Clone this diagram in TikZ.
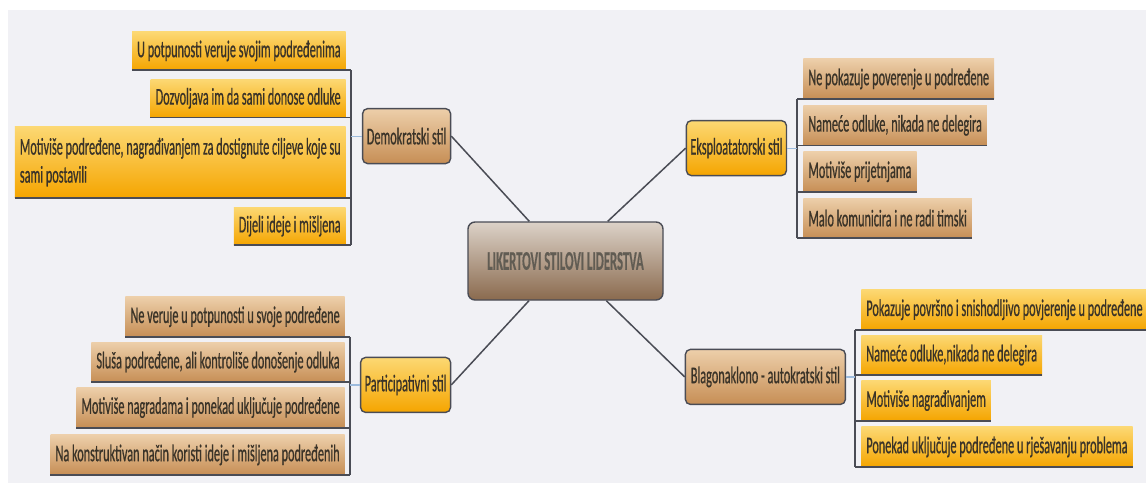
\documentclass[tikz,border=0pt]{standalone}
\usepackage{fontspec}
\setmainfont{Carlito}[FakeStretch=0.51, FakeBold=0.6]
\newfontfamily\rootfont{Carlito}[FakeStretch=0.47, FakeBold=0.4]
\usetikzlibrary{positioning}

\definecolor{PanelGray}{HTML}{F1F1F5}
\definecolor{LineGray}{HTML}{4A4C55}
\definecolor{HookBlue}{HTML}{9DBBDD}
\definecolor{TextDark}{HTML}{3A3328}
\definecolor{OrangeTop}{HTML}{FCD873}
\definecolor{OrangeBot}{HTML}{F5A500}
\definecolor{BrownTop}{HTML}{EDCFAA}
\definecolor{BrownBot}{HTML}{C68E55}
\definecolor{RootTop}{HTML}{DCD2C8}
\definecolor{RootBot}{HTML}{8A6A4E}

\begin{document}
\begin{tikzpicture}[x=1pt, y=-1pt,
	root/.style={draw=LineGray, line width=1.4pt, rounded corners=7pt, top color=RootTop, bottom color=RootBot, minimum width=195pt, minimum height=78pt, font=\rootfont\bfseries\fontsize{27}{30}\selectfont, text=TextDark!80},
	midO/.style={draw=LineGray, line width=1.4pt, rounded corners=5pt, top color=OrangeTop, bottom color=OrangeBot, minimum height=55pt, inner xsep=4pt, font=\fontsize{24}{28}\selectfont, text=TextDark},
	midB/.style={midO, top color=BrownTop, bottom color=BrownBot},
	leafO/.style={top color=OrangeTop, bottom color=OrangeBot, minimum height=40pt, inner xsep=5pt, inner ysep=3pt, font=\fontsize{24}{28}\selectfont, text=TextDark},
	leafB/.style={leafO, top color=BrownTop, bottom color=BrownBot},
	tree/.style={draw=LineGray, line width=1.8pt},
	hook/.style={draw=HookBlue, line width=1.2pt},
	link/.style={draw=LineGray, line width=1.5pt},
	node distance=6pt]
	\fill[PanelGray] (8,10) rectangle (1146,483);
	\useasboundingbox (0,0) rectangle (1146,491);
	% centre and the four styles
	\node[root] (root) at (565.5,261) {LIKERTOVI STILOVI LIDERSTVA};
	\node[midB, minimum width=88pt, above left=57pt and 16pt of root] (dem) {Demokratski stil};
	\node[midO, minimum width=100pt, above right=45pt and 22pt of root] (eks) {Eksploatatorski stil};
	\node[midO, minimum width=90pt, below left=56pt and 16pt of root] (par) {Participativni stil};
	\node[midB, minimum width=160pt, below right=48pt and 21pt of root] (bla) {Blagonaklono - autokratski stil};
	\draw[link] (dem.east) -- (root); \draw[link] (eks.west) -- (root);
	\draw[link] (par.east) -- (root); \draw[link] (bla.west) -- (root);
	% Demokratski stil
	\node[leafO, minimum height=38pt, above left=66pt and 16pt of dem.west] (d1) {U potpunosti veruje svojim podređenima};
	\node[leafO, minimum height=38pt, below=9pt of d1.south east, anchor=north east] (d2) {Dozvoljava im da sami donose odluke};
	\node[leafO, minimum height=71pt, below=9pt of d2.south east, anchor=north east, align=left] (d3) {Motiviše podređene, nagrađivanjem za dostignute ciljeve koje su\\sami postavili};
	\node[leafO, minimum height=38pt, below=9pt of d3.south east, anchor=north east] (d4) {Dijeli ideje i mišljena};
	% Participativni stil
	\node[leafB, above left=48pt and 15pt of par.west] (p1) {Ne veruje u potpunosti u svoje podređene};
	\node[leafB, below=5pt of p1.south east, anchor=north east] (p2) {Sluša podređene, ali kontroliše donošenje odluka};
	\node[leafB, below=5pt of p2.south east, anchor=north east] (p3) {Motiviše nagradama i ponekad uključuje podređene};
	\node[leafB, below=7pt of p3.south east, anchor=north east] (p4) {Na konstruktivan način koristi ideje i mišljena podređenih};
	% Eksploatatorski stil
	\node[leafB, above right=49pt and 16pt of eks.east] (e1) {Ne pokazuje poverenje u podređene};
	\node[leafB, below=6pt of e1.south west, anchor=north west] (e2) {Nameće odluke, nikada ne delegira};
	\node[leafB, below=6pt of e2.south west, anchor=north west] (e3) {Motiviše prijetnjama};
	\node[leafB, below=6pt of e3.south west, anchor=north west] (e4) {Malo komunicira i ne radi timski};
	% Blagonaklono - autokratski stil
	\node[leafO, above right=47pt and 15pt of bla.east] (b1) {Pokazuje površno i snishodljivo povjerenje u podređene};
	\node[leafO, below=5pt of b1.south west, anchor=north west] (b2) {Nameće odluke,nikada ne delegira};
	\node[leafO, below=5pt of b2.south west, anchor=north west] (b3) {Motiviše nagrađivanjem};
	\node[leafO, below=6pt of b3.south west, anchor=north west] (b4) {Ponekad uključuje podređene u rješavanju problema};
	% trunks and underlines
	\coordinate (dt) at ([xshift=5pt]d1.south east);
	\coordinate (pt) at ([xshift=5pt]p1.south east);
	\coordinate (et) at ([xshift=-6pt]e1.south west);
	\coordinate (bt) at ([xshift=-6pt]b1.south west);
	\draw[tree] (dt) -- ([xshift=5pt]d4.south east);
	\draw[tree] (pt) -- ([xshift=5pt]p4.south east);
	\draw[tree] (et) -- ([xshift=-6pt]e4.south west);
	\draw[tree] (bt) -- ([xshift=-6pt]b4.south west);
	\foreach \n in {d1,d2,d3,d4,p1,p2,p3,p4}
		\draw[tree] (\n.south west) -- ([xshift=5pt]\n.south east);
	\foreach \n in {e1,e2,e3,e4,b1,b2,b3,b4}
		\draw[tree] ([xshift=-6pt]\n.south west) -- (\n.south east);
	\draw[hook] (dem.west) -- (dem.west -| dt);
	\draw[hook] (par.west) -- (par.west -| pt);
	\draw[hook] (eks.east) -- (eks.east -| et);
	\draw[hook] (bla.east) -- (bla.east -| bt);
\end{tikzpicture}
\end{document}
